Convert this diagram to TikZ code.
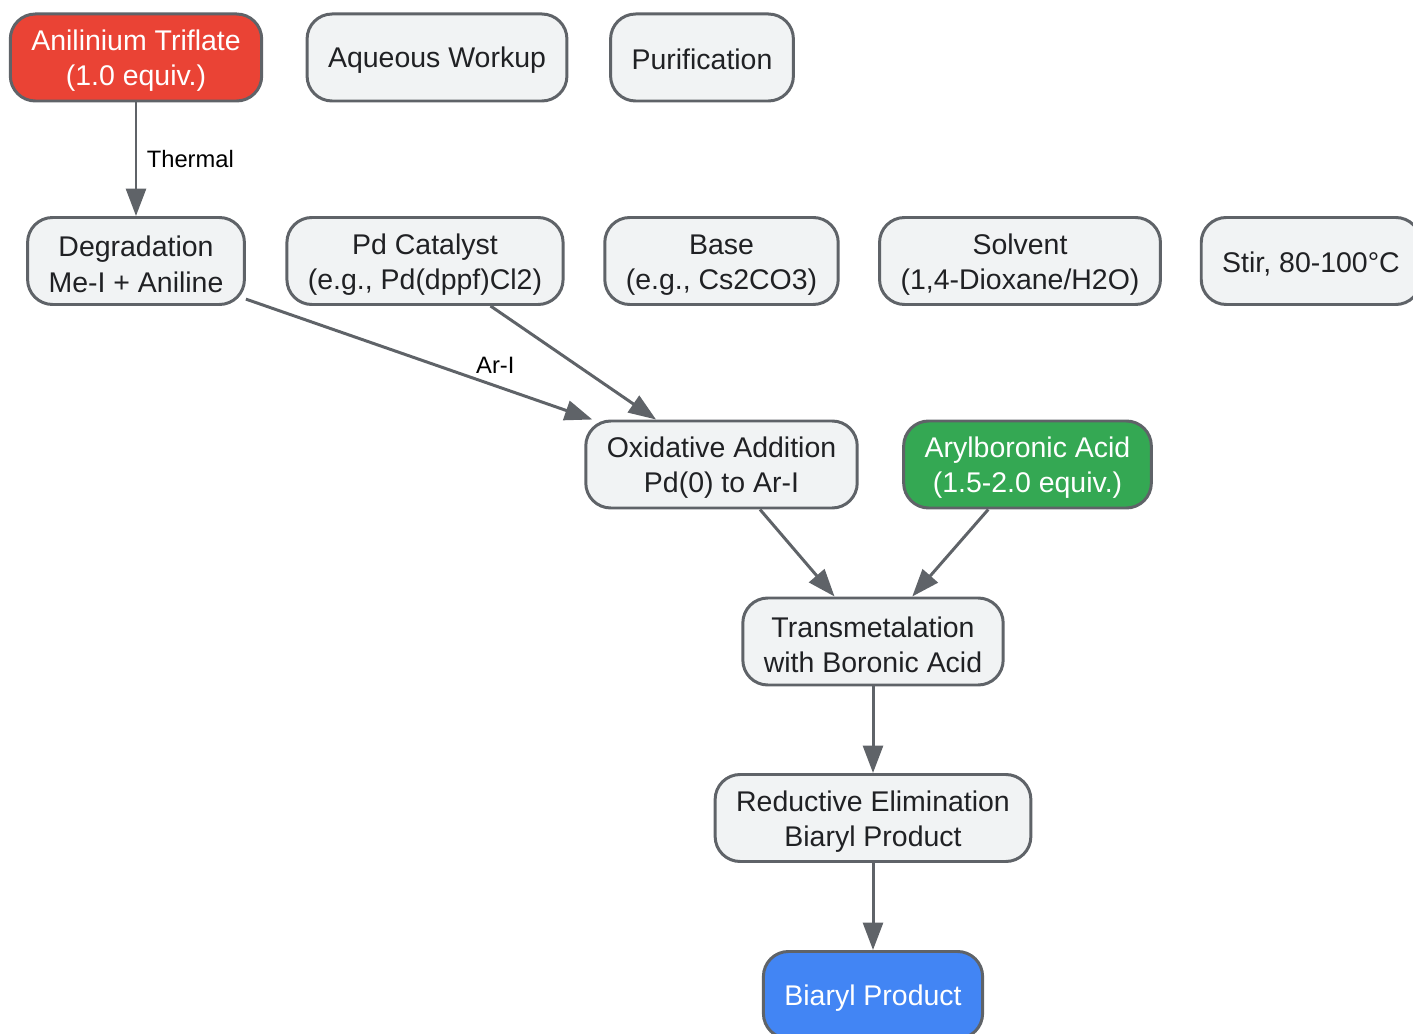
\documentclass[tikz,border=0pt]{standalone}
\usepackage{fontspec}
\setmainfont{Liberation Sans}
\usetikzlibrary{arrows.meta, positioning}
\definecolor{boxfill}{HTML}{F1F3F4}
\definecolor{boxline}{HTML}{5F6368}
\definecolor{boxtext}{HTML}{202124}
\definecolor{startred}{HTML}{EA4335}
\definecolor{acidgreen}{HTML}{34A853}
\definecolor{endblue}{HTML}{4285F4}
\newcommand\twolines[2]{\rule{0pt}{15.6pt}#1\\#2}

\begin{document}
\begin{tikzpicture}[
    stepbox/.style={rectangle, rounded corners=0.5cm, draw=boxline, line width=1.7pt,
        fill=boxfill, text=boxtext, align=center, minimum height=1.74cm,
        inner xsep=0.42cm, font=\fontsize{16.2}{20}\selectfont},
    onebox/.style={stepbox, execute at begin node={\rule{0pt}{#1}}},
    onebox/.default=15pt,
    flow/.style={-{Triangle[length=0.55cm, width=0.4cm]}, draw=boxline, line width=1.7pt},
    edgelabel/.style={font=\fontsize{13.5}{16}\selectfont, text=black}]

    \useasboundingbox (0, 0) rectangle (28.26, -20.68);

    % Top row
    \node at (2.72, -1.15) [stepbox, fill=startred, text=white] (trif) {\twolines{Anilinium Triflate}{(1.0 equiv.)}};
    \node at (8.74, -1.15) [onebox] (workup) {Aqueous Workup};
    \node at (14.04, -1.15) [onebox=14pt] (purif) {Purification};

    % Conditions
    \node at (2.72, -5.22) [stepbox] (degr) {\twolines{Degradation}{Me-I + Aniline}};
    \node at (8.5, -5.22) [stepbox] (pdcat) {\twolines{Pd Catalyst}{(e.g., Pd(dppf)Cl2)}};
    \node at (14.43, -5.22) [stepbox] (base) {\twolines{Base}{(e.g., Cs2CO3)}};
    \node at (20.4, -5.22) [stepbox] (solvent) {\twolines{Solvent}{(1,4-Dioxane/H2O)}};
    \node at (26.22, -5.22) [onebox] (stir) {Stir, 80-100\textdegree C};

    % Catalytic cycle
    \node at (14.43, -9.29) [stepbox] (oxadd) {\twolines{Oxidative Addition}{Pd(0) to Ar-I}};
    \node at (20.55, -9.29) [stepbox, fill=acidgreen, text=white] (boronic) {\twolines{Arylboronic Acid}{(1.5-2.0 equiv.)}};
    \node at (17.46, -12.83) [stepbox] (transmet) {\twolines{Transmetalation}{with Boronic Acid}};
    \node at (17.46, -16.36) [stepbox] (redelim) {\twolines{Reductive Elimination}{Biaryl Product}};
    \node at (17.46, -19.9) [onebox, fill=endblue, text=white] (product) {Biaryl Product};

    \draw[flow] (trif) -- (degr) node[midway, right=2pt, edgelabel] {Thermal};
    \draw[flow] (degr) -- (oxadd) node[pos=0.72, above=3pt, edgelabel] {Ar-I};
    \draw[flow] (pdcat) -- (oxadd);
    \draw[flow] (oxadd) -- (transmet);
    \draw[flow] (boronic) -- (transmet);
    \draw[flow] (transmet) -- (redelim);
    \draw[flow] (redelim) -- (product);

\end{tikzpicture}
\end{document}
